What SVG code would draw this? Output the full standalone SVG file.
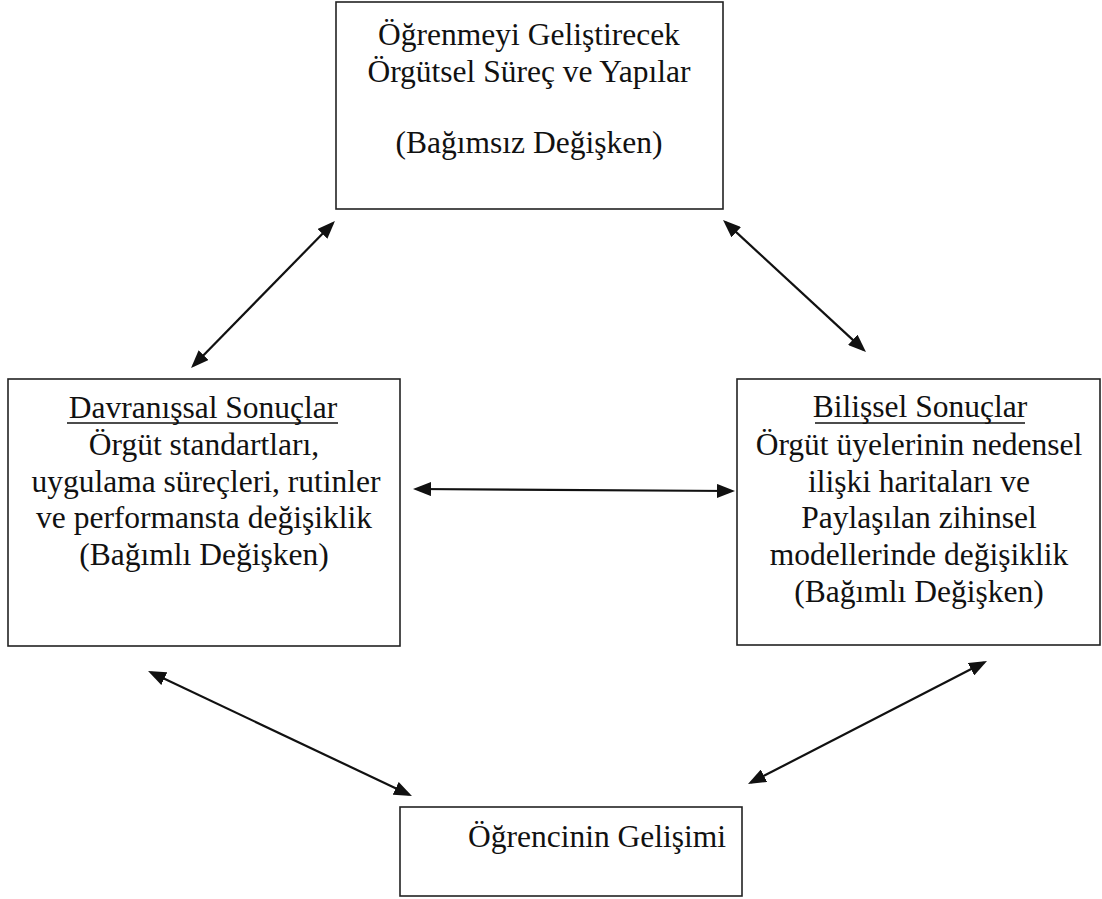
<svg xmlns="http://www.w3.org/2000/svg" width="1102" height="899" viewBox="0 0 1102 899">
<style>
.box{fill:#fff;stroke:#222;stroke-width:1.6}
.t{font-family:"Liberation Serif","Times New Roman",serif;font-size:31.5px;fill:#111;text-anchor:middle}
.ul{stroke:#111;stroke-width:1.5}
.c{stroke:#111;stroke-width:2.2;fill:none;marker-start:url(#ah);marker-end:url(#ah)}
</style>
<defs>
<marker id="ah" viewBox="0 0 18 14" markerWidth="18" markerHeight="14" refX="14.5" refY="7" orient="auto-start-reverse" markerUnits="userSpaceOnUse">
<path d="M0,0 L18,7 L0,14 z" fill="#111"/>
</marker>
</defs>
<rect width="1102" height="899" fill="#fff"/>
<g id="top">
<rect class="box" x="336" y="2" width="387" height="207"/>
<text class="t" x="529" y="45">Öğrenmeyi Geliştirecek</text>
<text class="t" x="529" y="82">Örgütsel Süreç ve Yapılar</text>
<text class="t" x="529" y="153">(Bağımsız Değişken)</text>
</g>
<g id="left">
<rect class="box" x="8" y="379" width="392" height="267"/>
<text class="t" x="203" y="418">Davranışsal Sonuçlar</text>
<line class="ul" x1="67" y1="423" x2="338" y2="423"/>
<text class="t" x="204" y="455">Örgüt standartları,</text>
<text class="t" x="206" y="492">uygulama süreçleri, rutinler</text>
<text class="t" x="204" y="528">ve performansta değişiklik</text>
<text class="t" x="204" y="565">(Bağımlı Değişken)</text>
</g>
<g id="right">
<rect class="box" x="737" y="379" width="363" height="266"/>
<text class="t" x="920" y="417">Bilişsel Sonuçlar</text>
<line class="ul" x1="815" y1="423" x2="1025" y2="423"/>
<text class="t" x="919" y="455">Örgüt üyelerinin nedensel</text>
<text class="t" x="919" y="492">ilişki haritaları ve</text>
<text class="t" x="919" y="528">Paylaşılan zihinsel</text>
<text class="t" x="919" y="565">modellerinde değişiklik</text>
<text class="t" x="919" y="602">(Bağımlı Değişken)</text>
</g>
<g id="bottom">
<rect class="box" x="400" y="807" width="342" height="89"/>
<text class="t" x="468" y="847" style="text-anchor:start">Öğrencinin Gelişimi</text>
</g>
<g id="connectors">
<line class="c" x1="332.5" y1="223.5" x2="193.5" y2="365.5"/>
<line class="c" x1="725.6" y1="222.4" x2="863.4" y2="349.6"/>
<line class="c" x1="416.5" y1="489" x2="731.5" y2="491"/>
<line class="c" x1="151.2" y1="672.5" x2="408.8" y2="794.5"/>
<line class="c" x1="983.9" y1="662.6" x2="751.1" y2="782.4"/>
</g>
</svg>
